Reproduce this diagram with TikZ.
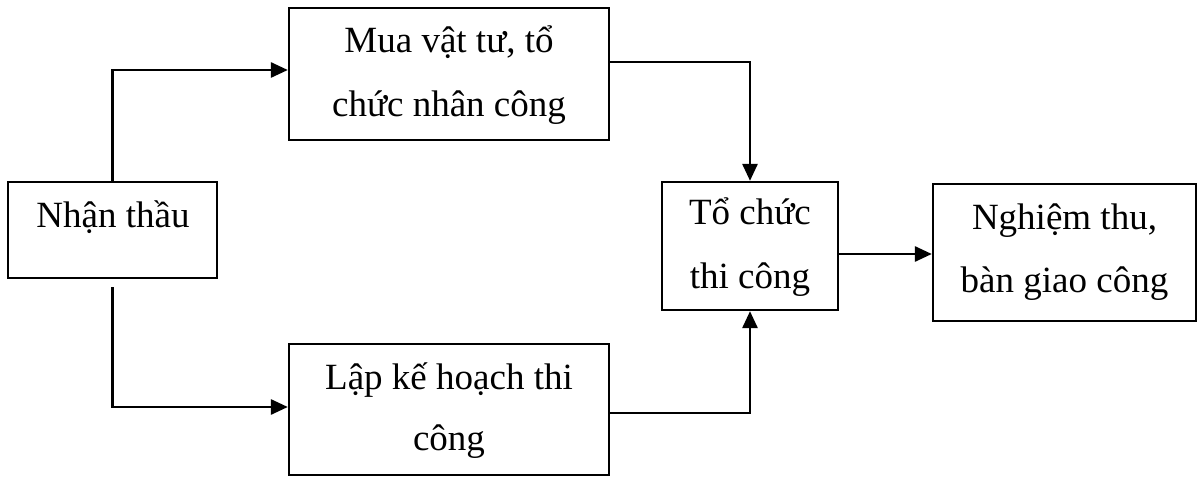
\documentclass[tikz,border=0pt]{standalone}
\usepackage{fontspec}
\setmainfont{Liberation Serif}
\usetikzlibrary{arrows.meta}
\begin{document}
\begin{tikzpicture}[x=1pt,y=1pt,
  box/.style={draw=black, line width=2.3pt, rectangle, inner sep=0pt},
  txt/.style={anchor=base, inner sep=0pt, font=\fontsize{37}{44}\selectfont},
  conn/.style={line width=2.8pt},
  arr/.style={conn, -{Triangle[length=17pt,width=15pt]}}]
\useasboundingbox (0,0) rectangle (1201,477);
% boxes
\node[box, minimum width=209pt, minimum height=96pt]  (nhan) at (112.5,247) {};
\node[box, minimum width=320pt, minimum height=132pt] (mua)  at (449,403) {};
\node[box, minimum width=320pt, minimum height=131pt] (lap)  at (449,67.5) {};
\node[box, minimum width=176pt, minimum height=128pt] (to)   at (750,231) {};
\node[box, minimum width=263pt, minimum height=137pt] (ngh)  at (1064.5,224.5) {};
% texts
\node[txt] (t1)  at (113,249) {Nhận thầu};
\node[txt] (t2a) at (449,424) {Mua vật tư, tổ};
\node[txt] (t2b) at (449,360) {chức nhân công};
\node[txt] (t3a) at (449,88)  {Lập kế hoạch thi};
\node[txt] (t3b) at (449,27)  {công};
\node[txt] (t4a) at (750,252) {Tổ chức};
\node[txt] (t4b) at (750,189) {thi công};
\node[txt] (t5a) at (1064.5,247) {Nghiệm thu,};
\node[txt] (t5b) at (1064.5,185) {bàn giao công};
% connectors
\draw[arr] (nhan.north) |- ([yshift=4pt]mua.west);
\draw[arr, shorten <=8pt] (nhan.south) |- ([yshift=2.5pt]lap.west);
\draw[arr] ([yshift=12pt]mua.east) -| (to.north);
\draw[arr] ([yshift=-3.5pt]lap.east) -| (to.south);
\draw[arr] ([yshift=-8pt]to.east) -- ([yshift=-1.5pt]ngh.west);
\end{tikzpicture}
\end{document}
